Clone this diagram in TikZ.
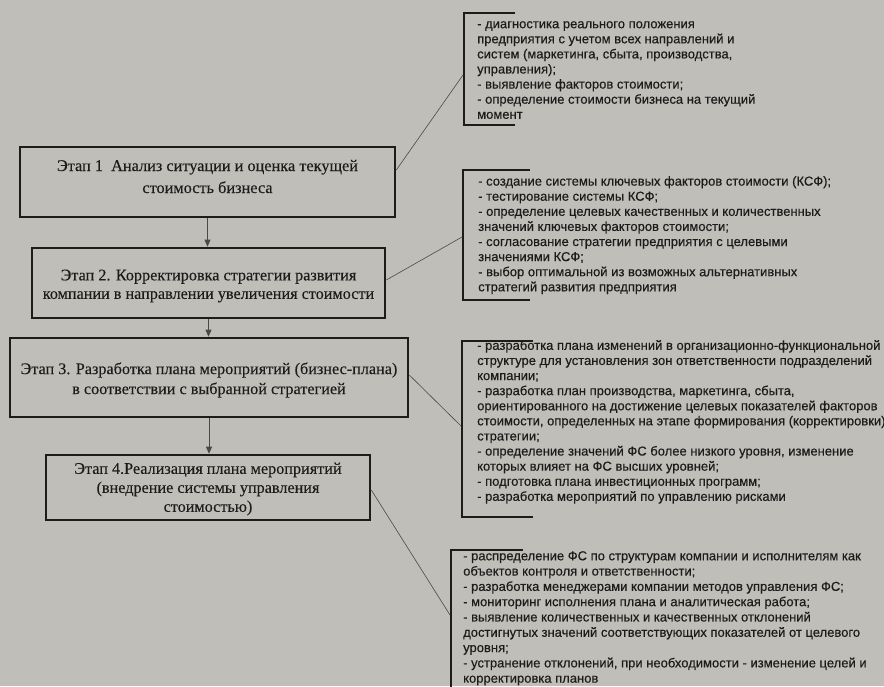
\documentclass[tikz,border=0pt]{standalone}
\usepackage{fontspec}
\setmainfont[FakeBold=0.2]{Liberation Serif}
\newfontfamily\listfont[FakeBold=0.35]{Liberation Sans}
\usetikzlibrary{arrows.meta,calc}
\definecolor{paper}{RGB}{192,190,185}
\definecolor{ink}{RGB}{30,28,27}
\definecolor{thin}{RGB}{75,73,71}
\tikzset{
  stagebox/.style={draw=ink, line width=2.6pt, inner sep=0pt},
  stagetext/.style={inner sep=0pt, align=center, text=ink},
  listtext/.style={anchor=north west, inner sep=0pt, align=left, text=ink,
    font=\listfont\fontsize{13}{15.1}\selectfont},
  bracketline/.style={draw=ink, line width=2.6pt},
  flow/.style={draw=thin, line width=0.7pt, -{Triangle[length=7pt,width=6pt]}},
  link/.style={draw=thin, line width=0.6pt}
}
\begin{document}
\begin{tikzpicture}[x=1pt,y=-1pt]
\useasboundingbox (0,0) rectangle (884,686);
\fill[paper] (0,0) rectangle (884,686);

% stage boxes
\node[stagebox, minimum width=375pt, minimum height=70pt] (b1) at (207.5,182) {};
\node[stagebox, minimum width=353pt, minimum height=70pt] (b2) at (208.5,283) {};
\node[stagebox, minimum width=398pt, minimum height=79pt] (b3) at (209,377.5) {};
\node[stagebox, minimum width=324pt, minimum height=65pt] (b4) at (208,487.5) {};

\node[stagetext, font=\fontsize{16.3}{22}\selectfont] (l1) at ($(b1.center)+(0,-5.5)$)
  {Этап 1\ \ Анализ ситуации и оценка текущей\\стоимость бизнеса};
\node[stagetext, font=\fontsize{16.2}{18.5}\selectfont] (l2) at ($(b2.center)+(0,3)$)
  {Этап 2. Корректировка стратегии развития\\компании в направлении увеличения стоимости};
\node[stagetext, font=\fontsize{16.2}{20}\selectfont] (l3) at ($(b3.center)+(0,2.5)$)
  {Этап 3. Разработка плана мероприятий (бизнес-плана)\\в соответствии с выбранной стратегией};
\node[stagetext, font=\fontsize{16.2}{19}\selectfont] (l4) at ($(b4.center)+(0,1.5)$)
  {Этап 4.Реализация плана мероприятий\\(внедрение системы управления\\стоимостью)};

% flow arrows
\draw[flow] (b1.south) -- (b1.south |- b2.north);
\draw[flow] (b2.south) -- (b2.south |- b3.north);
\draw[flow] (b3.south) -- (b3.south |- b4.north);

% brackets
\draw[bracketline] (515,13) -- (464,13) -- (464,125) -- (515,125);
\draw[bracketline] (530,170) -- (463,170) -- (463,300) -- (530,300);
\draw[bracketline] (533,341) -- (462,341) -- (462,517) -- (533,517);
\draw[bracketline] (523,550) -- (451,550) -- (451,690);

% list texts
\node[listtext] (t1) at (477,21) {- диагностика реального положения\\
предприятия с учетом всех направлений и\\
систем (маркетинга, сбыта, производства,\\
управления);\\
- выявление факторов стоимости;\\
- определение стоимости бизнеса на текущий\\
момент};
\node[listtext] (t2) at (478,176) {- создание системы ключевых факторов стоимости (КСФ);\\
- тестирование системы КСФ;\\
- определение целевых качественных и количественных\\
значений ключевых факторов стоимости;\\
- согласование стратегии предприятия с целевыми\\
значениями КСФ;\\
- выбор оптимальной из возможных альтернативных\\
стратегий развития предприятия};
\node[listtext] (t3) at (477,340) {- разработка плана изменений в организационно-функциональной\\
структуре для установления зон ответственности подразделений\\
компании;\\
- разработка план производства, маркетинга, сбыта,\\
ориентированного на достижение целевых показателей факторов\\
стоимости, определенных на этапе формирования (корректировки)\\
стратегии;\\
- определение значений ФС более низкого уровня, изменение\\
которых влияет на ФС высших уровней;\\
- подготовка плана инвестиционных программ;\\
- разработка мероприятий по управлению рисками};
\node[listtext, font=\listfont\fontsize{13}{15.3}\selectfont] (t4) at (463,551) {- распределение ФС по структурам компании и исполнителям как\\
объектов контроля и ответственности;\\
- разработка менеджерами компании методов управления ФС;\\
- мониторинг исполнения плана и аналитическая работа;\\
- выявление количественных и качественных отклонений\\
достигнутых значений соответствующих показателей от целевого\\
уровня;\\
- устранение отклонений, при необходимости - изменение целей и\\
корректировка планов};

% connectors from stages to their lists
\coordinate (e1) at (463,75);
\coordinate (e2) at (462,237);
\coordinate (e3) at (461,426);
\coordinate (e4) at (450,615);
\draw[link] (b1.east |- 0,170) -- (e1);
\draw[link] (b2.east |- 0,280) -- (e2);
\draw[link] (b3.east |- 0,375) -- (e3);
\draw[link] (b4.east |- 0,490) -- (e4);
\end{tikzpicture}
\end{document}
